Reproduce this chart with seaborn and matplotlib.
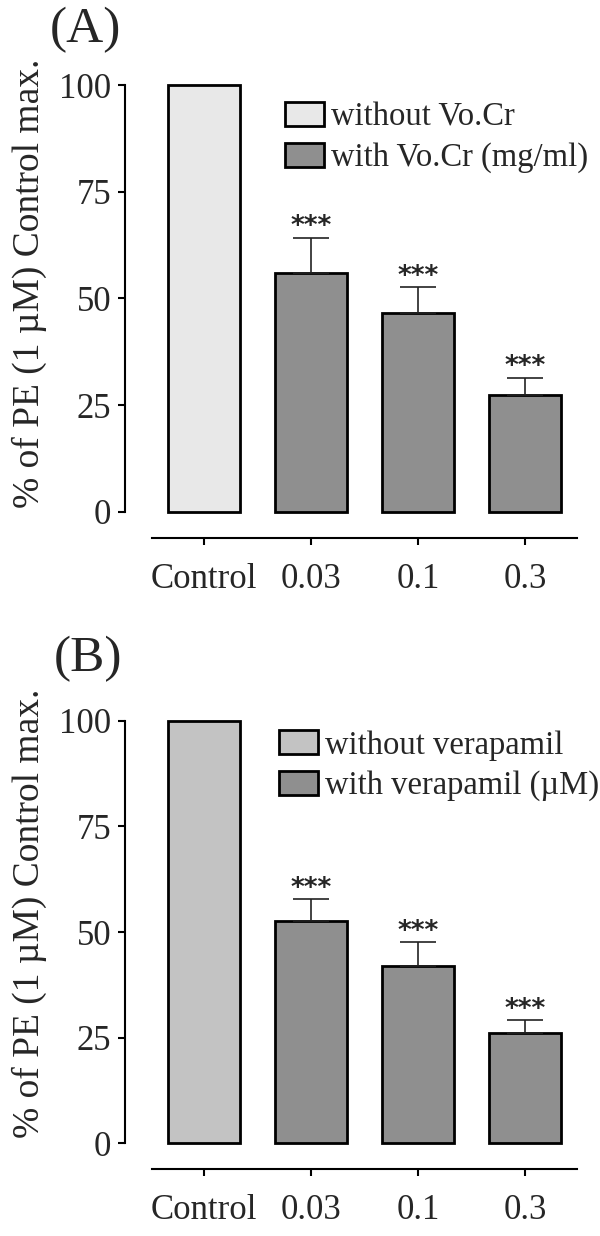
import numpy as np
import pandas as pd
import matplotlib.pyplot as plt
import seaborn as sns
from matplotlib.patches import Patch

# ---------------------------------------------------------
# Daten
# ---------------------------------------------------------
doses = ["Control", "0.03", "0.1", "0.3"]
groups = ["without", "with", "with", "with"]

a_mean = [100, 56.0, 46.7, 27.4]
a_sem = [0, 8.2, 5.9, 4.0]
a_labels = ["without Vo.Cr", "with Vo.Cr (mg/ml)"]

b_mean = [100, 52.6, 41.9, 26.1]
b_sem = [0, 5.2, 5.7, 3.0]
b_labels = ["without verapamil", "with verapamil (\u00b5M)"]

stars = ["", "***", "***", "***"]
ylabel = "% of PE (1 \u00b5M) Control max."

# ---------------------------------------------------------
# Stil
# ---------------------------------------------------------
sns.set_style("ticks")
plt.rcParams["font.family"] = ["Liberation Serif", "DejaVu Serif"]

fig = plt.figure(figsize=(6, 12.36), dpi=100)
ax_a = fig.add_axes([0.2083, 0.5858, 0.7534, 0.3454])
ax_b = fig.add_axes([0.2083, 0.0752, 0.7534, 0.3415])


def draw_panel(ax, means, sems, colors, labels, leg_anchor, label_y):
    df = pd.DataFrame({"dose": doses, "value": means, "group": groups})
    sns.barplot(data=df, x="dose", y="value", hue="group", order=doses,
                hue_order=["without", "with"], palette=colors, dodge=False,
                width=0.673, edgecolor="black", linewidth=2, errorbar=None,
                legend=False, ax=ax)
    for p in ax.patches:
        p.set_clip_on(False)

    x = np.arange(len(doses))[1:]
    m = np.array(means[1:])
    s = np.array(sems[1:])
    ax.errorbar(x, m, yerr=[np.zeros(len(s)), s], fmt="none", ecolor="#222222",
                elinewidth=1.2, capsize=13, capthick=1.2, zorder=1)
    for i in range(1, len(doses)):
        ax.text(i, means[i] + sems[i] - 0.6, stars[i], ha="center", va="bottom",
                fontsize=19, fontweight="bold", family="DejaVu Sans")

    ax.set_ylim(0, 100)
    ax.set_xlim(-0.738, 3.486)
    ax.set_yticks([0, 25, 50, 75, 100])
    sns.despine(ax=ax)
    ax.spines["bottom"].set_position(("outward", 18.7))
    ax.spines["bottom"].set_bounds(-0.486, 3.486)
    ax.spines["left"].set_bounds(0, 100)
    for sp in ["left", "bottom"]:
        ax.spines[sp].set_linewidth(1.5)
        ax.spines[sp].set_color("black")
    ax.tick_params(labelsize=25, length=5, width=1.5, color="black", pad=5)
    ax.tick_params(axis="x", pad=13)
    ax.set_xlabel("")
    ax.set_ylabel(ylabel, fontsize=27)
    ax.yaxis.set_label_coords(-0.172, label_y)

    handles = [Patch(facecolor=colors["without"], edgecolor="black", linewidth=2, label=labels[0]),
               Patch(facecolor=colors["with"], edgecolor="black", linewidth=2, label=labels[1])]
    ax.legend(handles=handles, loc="upper left", bbox_to_anchor=leg_anchor,
              frameon=False, fontsize=23.5, handlelength=1.2, handleheight=0.75,
              handletextpad=0.2, labelspacing=0.3, borderpad=0, borderaxespad=0)


draw_panel(ax_a, a_mean, a_sem, {"without": "#e8e8e8", "with": "#8f8f8f"}, a_labels, (0.354, 0.96), 0.535)
draw_panel(ax_b, b_mean, b_sem, {"without": "#c3c3c3", "with": "#8f8f8f"}, b_labels, (0.341, 0.978), 0.545)

fig.text(50 / 600, 1 - 30 / 1236, "(A)", fontsize=37, ha="left", va="center")
fig.text(54 / 600, 1 - 659 / 1236, "(B)", fontsize=37, ha="left", va="center")

fig.savefig("out.png", dpi=100)
